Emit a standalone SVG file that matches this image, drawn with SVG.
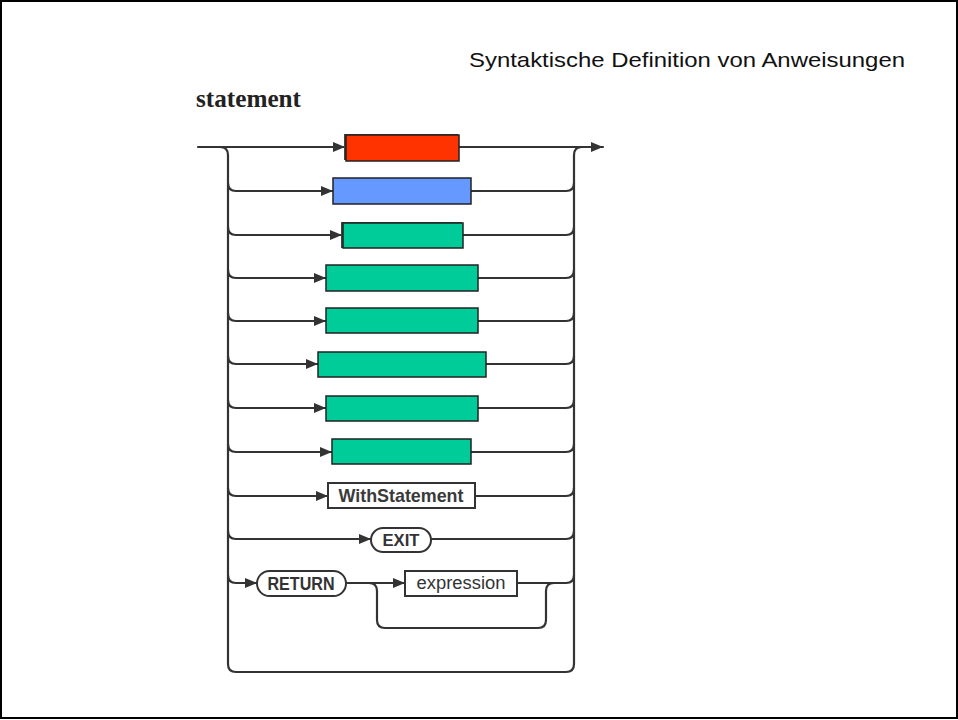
<svg xmlns="http://www.w3.org/2000/svg" width="958" height="720" viewBox="0 0 958 720">
<defs>
<marker id="ah" markerUnits="userSpaceOnUse" markerWidth="12" markerHeight="10" refX="12" refY="5" orient="auto">
<path d="M0,0 L12,5 L0,10 z" fill="#333"/>
</marker>
</defs>
<style>
.ln{fill:none;stroke:#333;stroke-width:2.2;stroke-linejoin:round;stroke-linecap:round}
.arr{marker-end:url(#ah)}
.bx{stroke:#222;stroke-width:1.5}
.red{fill:#FF3300}
.blue{fill:#6699FF}
.green{fill:#00CC99}
.term{fill:#fff;stroke:#333;stroke-width:2}
.lbl{font-family:"Liberation Sans",Arial,sans-serif;fill:#333;text-anchor:middle}
</style>
<rect x="1" y="1" width="956" height="717" fill="#fff" stroke="#000" stroke-width="2"/>
<text x="469" y="67" font-family="Liberation Sans, Arial, sans-serif" font-size="21" fill="#111" textLength="436" lengthAdjust="spacingAndGlyphs">Syntaktische Definition von Anweisungen</text>
<text x="196" y="107" font-family="Liberation Serif, Times New Roman, serif" font-weight="bold" font-size="25" fill="#222" textLength="105" lengthAdjust="spacingAndGlyphs">statement</text>

<g id="connectors">
<path class="ln arr" d="M198,147 L345,147"/>
<path class="ln arr" d="M459,147 L603,147"/>
<path class="ln" d="M220,147 Q228,147 228,155 L228,664 Q228,672 236,672 L566,672 Q574,672 574,664 L574,155 Q574,147 582,147"/>
<path class="ln arr" d="M228,183 Q228,191 236,191 L333,191"/>
<path class="ln" d="M471,191 L566,191 Q574,191 574,183"/>
<path class="ln arr" d="M228,227 Q228,235 236,235 L342,235"/>
<path class="ln" d="M463,235 L566,235 Q574,235 574,227"/>
<path class="ln arr" d="M228,270 Q228,278 236,278 L326,278"/>
<path class="ln" d="M478,278 L566,278 Q574,278 574,270"/>
<path class="ln arr" d="M228,313 Q228,321 236,321 L326,321"/>
<path class="ln" d="M478,321 L566,321 Q574,321 574,313"/>
<path class="ln arr" d="M228,356 Q228,364 236,364 L318,364"/>
<path class="ln" d="M486,364 L566,364 Q574,364 574,356"/>
<path class="ln arr" d="M228,400 Q228,408 236,408 L326,408"/>
<path class="ln" d="M478,408 L566,408 Q574,408 574,400"/>
<path class="ln arr" d="M228,444 Q228,452 236,452 L332,452"/>
<path class="ln" d="M471,452 L566,452 Q574,452 574,444"/>
<path class="ln arr" d="M228,488 Q228,496 236,496 L328,496"/>
<path class="ln" d="M475,496 L566,496 Q574,496 574,488"/>
<path class="ln arr" d="M228,531 Q228,539 236,539 L371,539"/>
<path class="ln" d="M431,539 L566,539 Q574,539 574,531"/>
<path class="ln arr" d="M228,575 Q228,583 236,583 L257,583"/>
<path class="ln arr" d="M346,583 L405,583"/>
<path class="ln" d="M517,583 L566,583 Q574,583 574,575"/>
<path class="ln" d="M369,583 Q377,583 377,591 L377,620 Q377,628 385,628 L538,628 Q546,628 546,620 L546,591 Q546,583 554,583"/>
</g>

<g id="n1"><rect x="344" y="134" width="114" height="26" fill="#444"/><rect class="bx red" x="346" y="135" width="113" height="26"/></g>
<g id="n2"><rect class="bx blue" x="333" y="178" width="138" height="26"/></g>
<g id="n3"><rect x="341" y="222" width="121" height="26" fill="#444"/><rect class="bx green" x="343" y="223" width="120" height="25"/></g>
<g id="n4"><rect class="bx green" x="326" y="265" width="152" height="26"/></g>
<g id="n5"><rect class="bx green" x="326" y="308" width="152" height="25"/></g>
<g id="n6"><rect class="bx green" x="318" y="352" width="168" height="25"/></g>
<g id="n7"><rect class="bx green" x="326" y="396" width="152" height="25"/></g>
<g id="n8"><rect class="bx green" x="332" y="439" width="139" height="25"/></g>
<g id="n9"><rect class="term" x="328" y="483" width="147" height="25"/><text class="lbl" x="401" y="502" font-size="19" font-weight="bold" fill="#444" textLength="125" lengthAdjust="spacingAndGlyphs" style="fill:#3a3a3a">WithStatement</text></g>
<g id="n10"><rect class="term" x="371" y="528" width="60" height="24" rx="12"/><text class="lbl" x="401" y="546" font-size="17" font-weight="bold" textLength="37" lengthAdjust="spacingAndGlyphs">EXIT</text></g>
<g id="n11"><rect class="term" x="257" y="571" width="89" height="25" rx="12.5"/><text class="lbl" x="301" y="590" font-size="18" font-weight="bold" textLength="67" lengthAdjust="spacingAndGlyphs">RETURN</text></g>
<g id="n12"><rect class="term" x="405" y="571" width="112" height="25"/><text class="lbl" x="461" y="589" font-size="18" textLength="89" lengthAdjust="spacingAndGlyphs">expression</text></g>
</svg>
